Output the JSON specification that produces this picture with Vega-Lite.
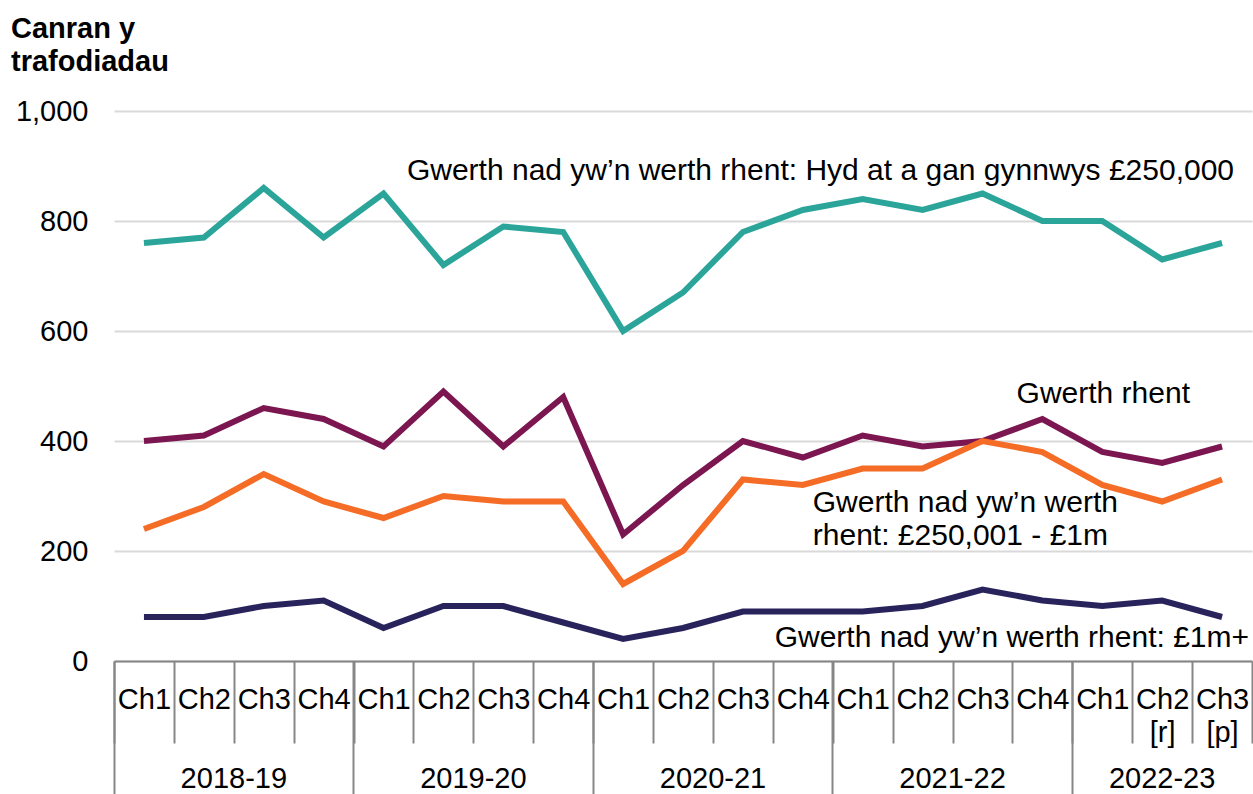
{
  "$schema": "https://vega.github.io/schema/vega-lite/v6.json",
  "width": 1138,
  "height": 550,
  "autosize": {"type": "none"},
  "padding": {"left": 114, "top": 111, "right": 1, "bottom": 133},
  "background": "white",
  "config": {
    "view": {"stroke": null},
    "font": "Liberation Sans",
    "axisY": {
      "domain": false,
      "ticks": false,
      "grid": true,
      "gridColor": "#D9D9D9",
      "gridWidth": 2,
      "labelFontSize": 29,
      "labelFont": "Liberation Sans",
      "labelColor": "#000000",
      "labelPadding": 26
    }
  },
  "title": {
    "text": ["Canran y", "trafodiadau"],
    "anchor": "start",
    "frame": "group",
    "orient": "top",
    "fontSize": 29,
    "fontWeight": "bold",
    "font": "Liberation Sans",
    "color": "#000000",
    "lineHeight": 33,
    "dx": -103,
    "offset": -3,
    "baseline": "alphabetic"
  },
  "datasets": {
    "series": [
      {"q": "2018-19|Ch1", "series": "hyd250k", "value": 760},
      {"q": "2018-19|Ch2", "series": "hyd250k", "value": 770},
      {"q": "2018-19|Ch3", "series": "hyd250k", "value": 860},
      {"q": "2018-19|Ch4", "series": "hyd250k", "value": 770},
      {"q": "2019-20|Ch1", "series": "hyd250k", "value": 850},
      {"q": "2019-20|Ch2", "series": "hyd250k", "value": 720},
      {"q": "2019-20|Ch3", "series": "hyd250k", "value": 790},
      {"q": "2019-20|Ch4", "series": "hyd250k", "value": 780},
      {"q": "2020-21|Ch1", "series": "hyd250k", "value": 600},
      {"q": "2020-21|Ch2", "series": "hyd250k", "value": 670},
      {"q": "2020-21|Ch3", "series": "hyd250k", "value": 780},
      {"q": "2020-21|Ch4", "series": "hyd250k", "value": 820},
      {"q": "2021-22|Ch1", "series": "hyd250k", "value": 840},
      {"q": "2021-22|Ch2", "series": "hyd250k", "value": 820},
      {"q": "2021-22|Ch3", "series": "hyd250k", "value": 850},
      {"q": "2021-22|Ch4", "series": "hyd250k", "value": 800},
      {"q": "2022-23|Ch1", "series": "hyd250k", "value": 800},
      {"q": "2022-23|Ch2|[r]", "series": "hyd250k", "value": 730},
      {"q": "2022-23|Ch3|[p]", "series": "hyd250k", "value": 760},
      {"q": "2018-19|Ch1", "series": "rhent", "value": 400},
      {"q": "2018-19|Ch2", "series": "rhent", "value": 410},
      {"q": "2018-19|Ch3", "series": "rhent", "value": 460},
      {"q": "2018-19|Ch4", "series": "rhent", "value": 440},
      {"q": "2019-20|Ch1", "series": "rhent", "value": 390},
      {"q": "2019-20|Ch2", "series": "rhent", "value": 490},
      {"q": "2019-20|Ch3", "series": "rhent", "value": 390},
      {"q": "2019-20|Ch4", "series": "rhent", "value": 480},
      {"q": "2020-21|Ch1", "series": "rhent", "value": 230},
      {"q": "2020-21|Ch2", "series": "rhent", "value": 320},
      {"q": "2020-21|Ch3", "series": "rhent", "value": 400},
      {"q": "2020-21|Ch4", "series": "rhent", "value": 370},
      {"q": "2021-22|Ch1", "series": "rhent", "value": 410},
      {"q": "2021-22|Ch2", "series": "rhent", "value": 390},
      {"q": "2021-22|Ch3", "series": "rhent", "value": 400},
      {"q": "2021-22|Ch4", "series": "rhent", "value": 440},
      {"q": "2022-23|Ch1", "series": "rhent", "value": 380},
      {"q": "2022-23|Ch2|[r]", "series": "rhent", "value": 360},
      {"q": "2022-23|Ch3|[p]", "series": "rhent", "value": 390},
      {"q": "2018-19|Ch1", "series": "250k1m", "value": 240},
      {"q": "2018-19|Ch2", "series": "250k1m", "value": 280},
      {"q": "2018-19|Ch3", "series": "250k1m", "value": 340},
      {"q": "2018-19|Ch4", "series": "250k1m", "value": 290},
      {"q": "2019-20|Ch1", "series": "250k1m", "value": 260},
      {"q": "2019-20|Ch2", "series": "250k1m", "value": 300},
      {"q": "2019-20|Ch3", "series": "250k1m", "value": 290},
      {"q": "2019-20|Ch4", "series": "250k1m", "value": 290},
      {"q": "2020-21|Ch1", "series": "250k1m", "value": 140},
      {"q": "2020-21|Ch2", "series": "250k1m", "value": 200},
      {"q": "2020-21|Ch3", "series": "250k1m", "value": 330},
      {"q": "2020-21|Ch4", "series": "250k1m", "value": 320},
      {"q": "2021-22|Ch1", "series": "250k1m", "value": 350},
      {"q": "2021-22|Ch2", "series": "250k1m", "value": 350},
      {"q": "2021-22|Ch3", "series": "250k1m", "value": 400},
      {"q": "2021-22|Ch4", "series": "250k1m", "value": 380},
      {"q": "2022-23|Ch1", "series": "250k1m", "value": 320},
      {"q": "2022-23|Ch2|[r]", "series": "250k1m", "value": 290},
      {"q": "2022-23|Ch3|[p]", "series": "250k1m", "value": 330},
      {"q": "2018-19|Ch1", "series": "1m", "value": 80},
      {"q": "2018-19|Ch2", "series": "1m", "value": 80},
      {"q": "2018-19|Ch3", "series": "1m", "value": 100},
      {"q": "2018-19|Ch4", "series": "1m", "value": 110},
      {"q": "2019-20|Ch1", "series": "1m", "value": 60},
      {"q": "2019-20|Ch2", "series": "1m", "value": 100},
      {"q": "2019-20|Ch3", "series": "1m", "value": 100},
      {"q": "2019-20|Ch4", "series": "1m", "value": 70},
      {"q": "2020-21|Ch1", "series": "1m", "value": 40},
      {"q": "2020-21|Ch2", "series": "1m", "value": 60},
      {"q": "2020-21|Ch3", "series": "1m", "value": 90},
      {"q": "2020-21|Ch4", "series": "1m", "value": 90},
      {"q": "2021-22|Ch1", "series": "1m", "value": 90},
      {"q": "2021-22|Ch2", "series": "1m", "value": 100},
      {"q": "2021-22|Ch3", "series": "1m", "value": 130},
      {"q": "2021-22|Ch4", "series": "1m", "value": 110},
      {"q": "2022-23|Ch1", "series": "1m", "value": 100},
      {"q": "2022-23|Ch2|[r]", "series": "1m", "value": 110},
      {"q": "2022-23|Ch3|[p]", "series": "1m", "value": 80}
    ]
  },
  "resolve": {"axis": {"x": "independent"}},
  "layer": [
    {
      "data": {"name": "series"},
      "mark": {"type": "line", "strokeWidth": 6, "strokeJoin": "miter"},
      "encoding": {
        "x": {
          "field": "q",
          "type": "ordinal",
          "bandPosition": 0.5,
          "scale": {
            "type": "band",
            "paddingInner": 0,
            "paddingOuter": 0,
            "domain": ["2018-19|Ch1", "2018-19|Ch2", "2018-19|Ch3", "2018-19|Ch4", "2019-20|Ch1", "2019-20|Ch2", "2019-20|Ch3", "2019-20|Ch4", "2020-21|Ch1", "2020-21|Ch2", "2020-21|Ch3", "2020-21|Ch4", "2021-22|Ch1", "2021-22|Ch2", "2021-22|Ch3", "2021-22|Ch4", "2022-23|Ch1", "2022-23|Ch2|[r]", "2022-23|Ch3|[p]"]
          },
          "axis": {
            "orient": "bottom",
            "title": null,
            "grid": false,
            "tickBand": "extent",
            "tickSize": 82,
            "tickColor": "#868686",
            "tickWidth": 2,
            "domain": true,
            "domainColor": "#868686",
            "domainWidth": 2,
            "labelFontSize": 29,
            "labelFont": "Liberation Sans",
            "labelColor": "#000000",
            "labelPadding": -58,
            "labelBaseline": "top",
            "labelLineHeight": 33,
            "labelAngle": 0,
            "labelOverlap": false,
            "labelFlush": false,
            "labelExpr": "slice(split(datum.value, '|'), 1)"
          }
        },
        "y": {
          "field": "value",
          "type": "quantitative",
          "scale": {"domain": [0, 1000], "nice": false},
          "axis": {"title": null, "values": [0, 200, 400, 600, 800, 1000], "format": ",d"}
        },
        "color": {
          "field": "series",
          "type": "nominal",
          "scale": {
            "domain": ["hyd250k", "rhent", "250k1m", "1m"],
            "range": ["#2BA59A", "#7B1650", "#F46C26", "#29235C"]
          },
          "legend": null
        }
      }
    },
    {
      "data": {"values": [{"q": "2022-23|Ch3|[p]", "value": 875, "label": "Gwerth nad yw’n werth rhent: Hyd at a gan gynnwys £250,000"}]},
      "mark": {"type": "text", "align": "right", "baseline": "alphabetic", "dx": 12, "fontSize": 30, "font": "Liberation Sans", "color": "#000000"},
      "encoding": {
        "x": {
          "field": "q",
          "type": "ordinal",
          "bandPosition": 0.5,
          "scale": {
            "type": "band",
            "paddingInner": 0,
            "paddingOuter": 0,
            "domain": ["2018-19|Ch1", "2018-19|Ch2", "2018-19|Ch3", "2018-19|Ch4", "2019-20|Ch1", "2019-20|Ch2", "2019-20|Ch3", "2019-20|Ch4", "2020-21|Ch1", "2020-21|Ch2", "2020-21|Ch3", "2020-21|Ch4", "2021-22|Ch1", "2021-22|Ch2", "2021-22|Ch3", "2021-22|Ch4", "2022-23|Ch1", "2022-23|Ch2|[r]", "2022-23|Ch3|[p]"]
          },
          "axis": {
            "orient": "bottom",
            "title": null,
            "grid": false,
            "domain": false,
            "ticks": false,
            "tickSize": 0,
            "values": ["2018-19|Ch2", "2019-20|Ch2", "2020-21|Ch2", "2021-22|Ch2", "2022-23|Ch2|[r]"],
            "labelFontSize": 29,
            "labelFont": "Liberation Sans",
            "labelColor": "#000000",
            "labelPadding": 103,
            "labelBaseline": "top",
            "labelAngle": 0,
            "labelAlign": "center",
            "labelOverlap": false,
            "labelFlush": false,
            "labelOffset": {"condition": {"test": "datum.value === '2022-23|Ch2|[r]'", "value": 0}, "value": 30},
            "labelExpr": "split(datum.value, '|')[0]"
          }
        },
        "y": {"field": "value", "type": "quantitative", "axis": {"title": null, "values": [0, 200, 400, 600, 800, 1000], "format": ",d"}},
        "text": {"field": "label"}
      }
    },
    {
      "data": {"values": [{"q": "2022-23|Ch1", "value": 470, "label": "Gwerth rhent"}]},
      "mark": {"type": "text", "align": "center", "baseline": "alphabetic", "dx": 1, "fontSize": 30, "font": "Liberation Sans", "color": "#000000"},
      "encoding": {
        "x": {
          "field": "q",
          "type": "ordinal",
          "bandPosition": 0.5,
          "scale": {
            "type": "band",
            "paddingInner": 0,
            "paddingOuter": 0,
            "domain": ["2018-19|Ch1", "2018-19|Ch2", "2018-19|Ch3", "2018-19|Ch4", "2019-20|Ch1", "2019-20|Ch2", "2019-20|Ch3", "2019-20|Ch4", "2020-21|Ch1", "2020-21|Ch2", "2020-21|Ch3", "2020-21|Ch4", "2021-22|Ch1", "2021-22|Ch2", "2021-22|Ch3", "2021-22|Ch4", "2022-23|Ch1", "2022-23|Ch2|[r]", "2022-23|Ch3|[p]"]
          },
          "axis": {
            "orient": "bottom",
            "title": null,
            "grid": false,
            "domain": false,
            "labels": false,
            "ticks": true,
            "tickSize": 133,
            "tickColor": "#868686",
            "tickWidth": 2,
            "bandPosition": 0,
            "values": ["2018-19|Ch1", "2019-20|Ch1", "2020-21|Ch1", "2021-22|Ch1", "2022-23|Ch1"]
          }
        },
        "y": {"field": "value", "type": "quantitative", "axis": {"title": null, "values": [0, 200, 400, 600, 800, 1000], "format": ",d"}},
        "text": {"field": "label"}
      }
    },
    {
      "data": {"values": [{"q": "2022-23|Ch3|[p]", "value": 25, "label": "Gwerth nad yw’n werth rhent: £1m+"}]},
      "mark": {"type": "text", "align": "right", "baseline": "alphabetic", "dx": 27, "fontSize": 30, "font": "Liberation Sans", "color": "#000000"},
      "encoding": {
        "x": {
          "field": "q",
          "type": "ordinal",
          "bandPosition": 0.5,
          "scale": {
            "type": "band",
            "paddingInner": 0,
            "paddingOuter": 0,
            "domain": ["2018-19|Ch1", "2018-19|Ch2", "2018-19|Ch3", "2018-19|Ch4", "2019-20|Ch1", "2019-20|Ch2", "2019-20|Ch3", "2019-20|Ch4", "2020-21|Ch1", "2020-21|Ch2", "2020-21|Ch3", "2020-21|Ch4", "2021-22|Ch1", "2021-22|Ch2", "2021-22|Ch3", "2021-22|Ch4", "2022-23|Ch1", "2022-23|Ch2|[r]", "2022-23|Ch3|[p]"]
          },
          "axis": null
        },
        "y": {"field": "value", "type": "quantitative", "axis": {"title": null, "values": [0, 200, 400, 600, 800, 1000], "format": ",d"}},
        "text": {"field": "label"}
      }
    },
    {
      "data": {"values": [{"q": "2020-21|Ch4", "value": 271, "label": ["Gwerth nad yw’n werth", "rhent: £250,001 - £1m"]}]},
      "mark": {"type": "text", "align": "left", "baseline": "alphabetic", "dx": 10, "fontSize": 30, "lineHeight": 33, "font": "Liberation Sans", "color": "#000000"},
      "encoding": {
        "x": {
          "field": "q",
          "type": "ordinal",
          "bandPosition": 0.5,
          "scale": {
            "type": "band",
            "paddingInner": 0,
            "paddingOuter": 0,
            "domain": ["2018-19|Ch1", "2018-19|Ch2", "2018-19|Ch3", "2018-19|Ch4", "2019-20|Ch1", "2019-20|Ch2", "2019-20|Ch3", "2019-20|Ch4", "2020-21|Ch1", "2020-21|Ch2", "2020-21|Ch3", "2020-21|Ch4", "2021-22|Ch1", "2021-22|Ch2", "2021-22|Ch3", "2021-22|Ch4", "2022-23|Ch1", "2022-23|Ch2|[r]", "2022-23|Ch3|[p]"]
          },
          "axis": null
        },
        "y": {"field": "value", "type": "quantitative", "axis": {"title": null, "values": [0, 200, 400, 600, 800, 1000], "format": ",d"}},
        "text": {"field": "label"}
      }
    }
  ]
}
